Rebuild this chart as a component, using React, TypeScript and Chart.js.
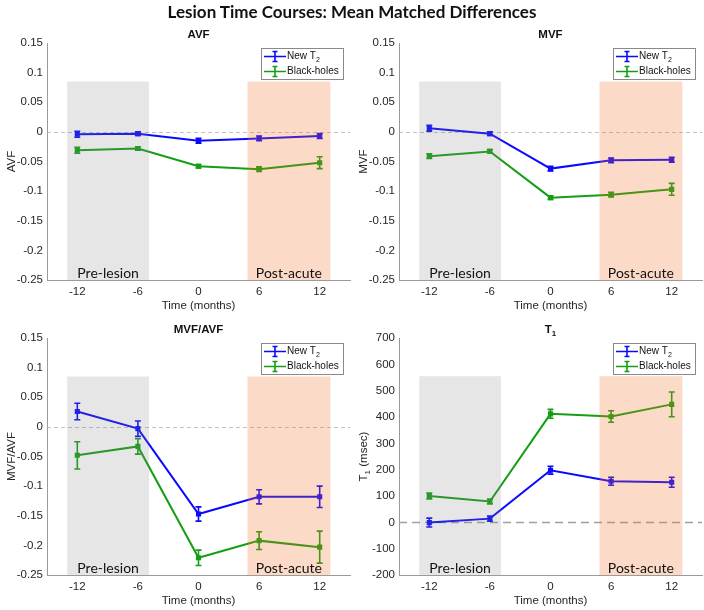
import React, { useEffect, useRef } from 'react';
import { Chart, registerables } from 'chart.js';
Chart.register(...registerables);

// ---- data ----
const months = [-12, -6, 0, 6, 12];
const xTickValues = [-12, -6, 0, 6, 12];

const avfNewT2 = [-0.004, -0.003, -0.015, -0.011, -0.007];
const avfNewT2Err = [0.005, 0.003, 0.004, 0.004, 0.004];
const avfBlackHoles = [-0.031, -0.028, -0.058, -0.063, -0.052];
const avfBlackHolesErr = [0.005, 0.003, 0.003, 0.004, 0.01];

const mvfNewT2 = [0.006, -0.003, -0.062, -0.048, -0.047];
const mvfNewT2Err = [0.005, 0.003, 0.004, 0.004, 0.004];
const mvfBlackHoles = [-0.041, -0.033, -0.111, -0.106, -0.097];
const mvfBlackHolesErr = [0.004, 0.003, 0.003, 0.004, 0.01];

const ratioNewT2 = [0.026, -0.003, -0.147, -0.118, -0.118];
const ratioNewT2Err = [0.014, 0.013, 0.012, 0.012, 0.018];
const ratioBlackHoles = [-0.048, -0.033, -0.221, -0.192, -0.203];
const ratioBlackHolesErr = [0.023, 0.013, 0.013, 0.015, 0.027];

const t1NewT2 = [-1, 14, 198, 156, 152];
const t1NewT2Err = [17, 10, 15, 15, 19];
const t1BlackHoles = [100, 79, 412, 402, 448];
const t1BlackHolesErr = [11, 9, 17, 22, 47];

const preLesionRange = [-13, -4.9];
const postAcuteRange = [4.85, 13.05];

const BLUE = 'rgb(10,10,255)';
const GREEN = 'rgb(20,158,20)';
const FONT = '"Liberation Sans", Arial, sans-serif';
const CANVAS_W = 356;

type Part = { t: string; sub?: boolean };

function drawParts(ctx: CanvasRenderingContext2D, parts: Part[], x: number, y: number, size: number, weight: string, align: 'left' | 'center') {
  const subSize = Math.round(size * 0.72);
  const widths = parts.map((p) => {
    ctx.font = `${weight} ${p.sub ? subSize : size}px ${FONT}`;
    return ctx.measureText(p.t).width;
  });
  const total = widths.reduce((a, b) => a + b, 0);
  let cx = align === 'center' ? x - total / 2 : x;
  ctx.textBaseline = 'middle';
  ctx.textAlign = 'left';
  parts.forEach((p, i) => {
    ctx.font = `${weight} ${p.sub ? subSize : size}px ${FONT}`;
    ctx.fillText(p.t, cx, p.sub ? y + size * 0.32 : y);
    cx += widths[i];
  });
}

type Panel = {
  title: Part[];
  yLabel: Part[];
  yMin: number;
  yMax: number;
  yStep: number;
  bandTop: number;
  newT2: number[];
  newT2Err: number[];
  bh: number[];
  bhErr: number[];
  left: number;
  top: number;
  height: number;
  areaTop: number;
  wideDash: boolean;
};

const panels: Panel[] = [
  { title: [{ t: 'AVF' }], yLabel: [{ t: 'AVF' }], yMin: -0.25, yMax: 0.15, yStep: 0.05, bandTop: 0.085,
    newT2: avfNewT2, newT2Err: avfNewT2Err, bh: avfBlackHoles, bhErr: avfBlackHolesErr,
    left: 0, top: 0, height: 315, areaTop: 43, wideDash: false },
  { title: [{ t: 'MVF' }], yLabel: [{ t: 'MVF' }], yMin: -0.25, yMax: 0.15, yStep: 0.05, bandTop: 0.085,
    newT2: mvfNewT2, newT2Err: mvfNewT2Err, bh: mvfBlackHoles, bhErr: mvfBlackHolesErr,
    left: 352, top: 0, height: 315, areaTop: 43, wideDash: false },
  { title: [{ t: 'MVF/AVF' }], yLabel: [{ t: 'MVF/AVF' }], yMin: -0.25, yMax: 0.15, yStep: 0.05, bandTop: 0.085,
    newT2: ratioNewT2, newT2Err: ratioNewT2Err, bh: ratioBlackHoles, bhErr: ratioBlackHolesErr,
    left: 0, top: 305, height: 305, areaTop: 33, wideDash: false },
  { title: [{ t: 'T' }, { t: '1', sub: true }], yLabel: [{ t: 'T' }, { t: '1', sub: true }, { t: ' (msec)' }], yMin: -200, yMax: 700, yStep: 100, bandTop: 555,
    newT2: t1NewT2, newT2Err: t1NewT2Err, bh: t1BlackHoles, bhErr: t1BlackHolesErr,
    left: 352, top: 305, height: 305, areaTop: 33, wideDash: true },
];

function PanelChart({ p }: { p: Panel }) {
  const ref = useRef<HTMLCanvasElement>(null);
  useEffect(() => {
    const canvas = ref.current!;
    const decor = {
      id: 'decor',
      beforeDatasetsDraw(chart: any) {
        const { ctx, chartArea: a, scales } = chart;
        const y0 = scales.y.getPixelForValue(0);
        ctx.save();
        ctx.strokeStyle = p.wideDash ? 'rgba(150,150,150,0.9)' : 'rgba(170,170,170,0.9)';
        ctx.lineWidth = p.wideDash ? 1.3 : 0.8;
        ctx.setLineDash(p.wideDash ? [8, 5] : [4, 3]);
        ctx.beginPath();
        ctx.moveTo(a.left, Math.round(y0) + 0.5);
        ctx.lineTo(a.right, Math.round(y0) + 0.5);
        ctx.stroke();
        ctx.restore();
      },
      afterDatasetsDraw(chart: any) {
        const { ctx, chartArea: a, scales } = chart;
        const xs = scales.x;
        const ys = scales.y;
        ctx.save();
        // error bars
        const series = [
          { v: p.newT2, e: p.newT2Err, c: BLUE },
          { v: p.bh, e: p.bhErr, c: GREEN },
        ];
        series.forEach((s) => {
          ctx.strokeStyle = s.c;
          ctx.lineWidth = 1.6;
          months.forEach((m, i) => {
            const x = xs.getPixelForValue(m);
            const yt = ys.getPixelForValue(s.v[i] + s.e[i]);
            const yb = ys.getPixelForValue(s.v[i] - s.e[i]);
            ctx.beginPath();
            ctx.moveTo(x, yt); ctx.lineTo(x, yb);
            ctx.moveTo(x - 3, yt); ctx.lineTo(x + 3, yt);
            ctx.moveTo(x - 3, yb); ctx.lineTo(x + 3, yb);
            ctx.stroke();
          });
        });
        // bands (drawn over, translucent)
        const yTop = ys.getPixelForValue(p.bandTop);
        const bands = [
          { r: preLesionRange, c: 'rgba(128,128,128,0.2)', label: 'Pre-lesion' },
          { r: postAcuteRange, c: 'rgba(240,110,30,0.25)', label: 'Post-acute' },
        ];
        bands.forEach((b) => {
          const x1 = xs.getPixelForValue(b.r[0]);
          const x2 = xs.getPixelForValue(b.r[1]);
          ctx.fillStyle = b.c;
          ctx.fillRect(x1, yTop, x2 - x1, a.bottom - yTop);
          ctx.fillStyle = '#111';
          ctx.font = `14px Lato, "Open Sans", sans-serif`;
          ctx.textAlign = 'center';
          ctx.textBaseline = 'alphabetic';
          ctx.fillText(b.label, (x1 + x2) / 2, a.bottom - 2);
        });
        // legend
        const bw = 82, bh = 31;
        const bx = a.right - 7 - bw;
        const by = a.top + 5;
        ctx.fillStyle = '#fff';
        ctx.fillRect(bx, by, bw, bh);
        ctx.strokeStyle = '#8a8a8a';
        ctx.lineWidth = 1;
        ctx.strokeRect(Math.round(bx) + 0.5, Math.round(by) + 0.5, bw, bh);
        const rows = [
          { c: BLUE, parts: [{ t: 'New T' }, { t: '2', sub: true }] as Part[], y: by + 8.5 },
          { c: GREEN, parts: [{ t: 'Black-holes' }] as Part[], y: by + 23.5 },
        ];
        rows.forEach((r) => {
          ctx.strokeStyle = r.c;
          ctx.lineWidth = 1.6;
          const lx1 = bx + 3, lx2 = bx + 25, mx = bx + 14;
          ctx.beginPath();
          ctx.moveTo(lx1, r.y); ctx.lineTo(lx2, r.y);
          ctx.moveTo(mx, r.y - 5); ctx.lineTo(mx, r.y + 5);
          ctx.moveTo(mx - 2.5, r.y - 5); ctx.lineTo(mx + 2.5, r.y - 5);
          ctx.moveTo(mx - 2.5, r.y + 5); ctx.lineTo(mx + 2.5, r.y + 5);
          ctx.stroke();
          ctx.fillStyle = '#111';
          drawParts(ctx, r.parts, bx + 26, r.y, 10, 'normal', 'left');
        });
        ctx.restore();
      },
      afterDraw(chart: any) {
        const { ctx, chartArea: a } = chart;
        ctx.save();
        ctx.fillStyle = '#111';
        const cx = (a.left + a.right) / 2;
        drawParts(ctx, p.title, cx, a.top - 8, 11.5, 'bold', 'center');
        ctx.fillStyle = '#262626';
        drawParts(ctx, [{ t: 'Time (months)' }], cx, a.bottom + 25.5, 11.5, 'normal', 'center');
        ctx.translate(12, (a.top + a.bottom) / 2);
        ctx.rotate(-Math.PI / 2);
        drawParts(ctx, p.yLabel, 0, 0, 11.5, 'normal', 'center');
        ctx.restore();
      },
    };

    const chart = new Chart(canvas, {
      type: 'line',
      data: {
        datasets: [
          {
            label: 'New T2',
            data: months.map((m, i) => ({ x: m, y: p.newT2[i] })),
            borderColor: BLUE,
            backgroundColor: BLUE,
            borderWidth: 2,
            pointStyle: 'rect',
            pointRadius: 2.2,
            tension: 0,
          },
          {
            label: 'Black-holes',
            data: months.map((m, i) => ({ x: m, y: p.bh[i] })),
            borderColor: GREEN,
            backgroundColor: GREEN,
            borderWidth: 2,
            pointStyle: 'rect',
            pointRadius: 2.2,
            tension: 0,
          },
        ],
      },
      options: {
        animation: false,
        responsive: false,
        events: [],
        layout: { padding: { top: p.areaTop, right: 0, left: 0, bottom: 0 } },
        plugins: { legend: { display: false }, tooltip: { enabled: false }, title: { display: false } },
        scales: {
          x: {
            type: 'linear',
            min: -15,
            max: 15,
            afterBuildTicks: (s: any) => { s.ticks = xTickValues.map((v) => ({ value: v })); },
            afterFit: (s: any) => { s.height = p.height - (p.areaTop + 237); },
            grid: { display: true, drawOnChartArea: false, drawTicks: false },
            border: { display: true, color: '#9a9a9a', width: 1 },
            ticks: { color: '#262626', font: { family: FONT, size: 11.5 }, padding: 5, maxRotation: 0, autoSkip: false,
              callback: (v: any) => String(v) },
          },
          y: {
            type: 'linear',
            min: p.yMin,
            max: p.yMax,
            afterFit: (s: any) => { s.width = 47; },
            grid: { display: true, drawOnChartArea: false, drawTicks: false },
            border: { display: true, color: '#9a9a9a', width: 1 },
            ticks: { stepSize: p.yStep, color: '#262626', font: { family: FONT, size: 11.5 }, padding: 4,
              callback: (v: any) => String(Number(Number(v).toFixed(3))) },
          },
        },
      },
      plugins: [decor],
    } as any);
    return () => chart.destroy();
  }, [p]);
  return (
    <canvas
      ref={ref}
      width={CANVAS_W}
      height={p.height}
      style={{ position: 'absolute', left: p.left, top: p.top, width: CANVAS_W, height: p.height }}
    />
  );
}

export default function App() {
  return (
    <div style={{ position: 'absolute', left: 0, top: 0, width: 704, height: 610, background: '#fff', overflow: 'hidden' }}>
      {panels.map((p, i) => (
        <PanelChart key={i} p={p} />
      ))}
      <div
        style={{
          position: 'absolute', left: 0, top: 1, width: 704, textAlign: 'center',
          font: 'bold 17px Lato, "Open Sans", sans-serif', color: '#111', zIndex: 5,
        }}
      >
        Lesion Time Courses: Mean Matched Differences
      </div>
    </div>
  );
}
